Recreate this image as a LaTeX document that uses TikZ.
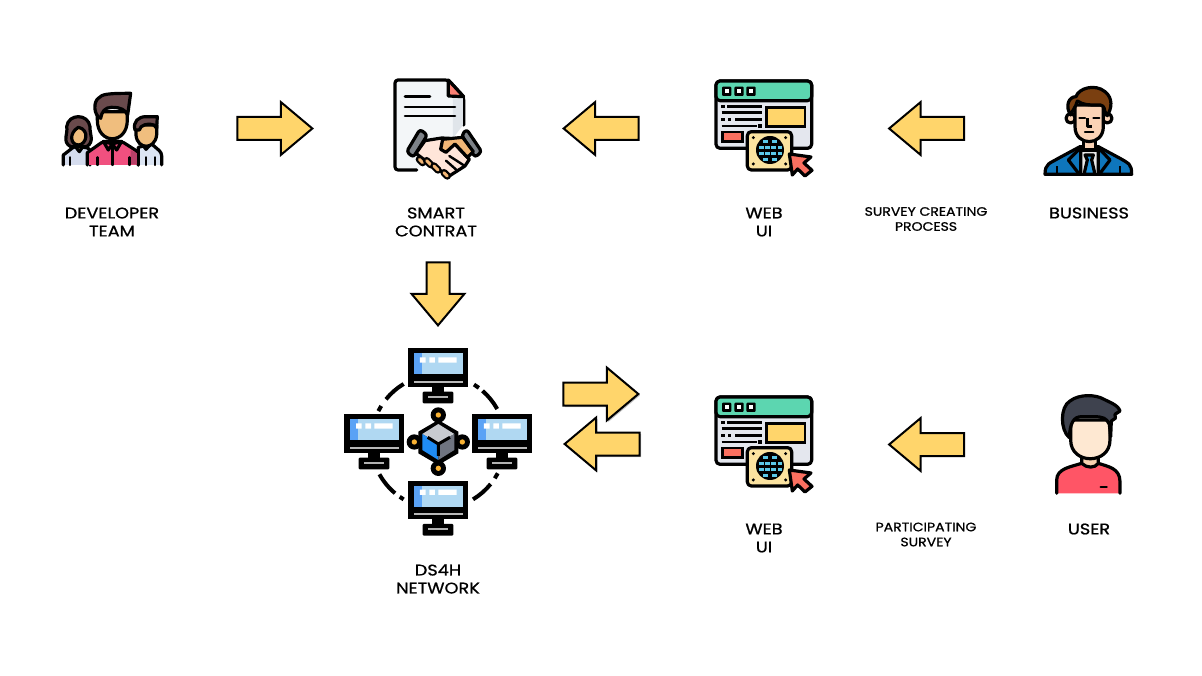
\documentclass[tikz,border=0pt]{standalone}
\usepackage{fontspec}
\setmainfont{Poppins}[FakeBold=0.9,FakeStretch=1.15]
\usetikzlibrary{shapes.arrows,shadows}
\definecolor{arrowyellow}{HTML}{FFD56B}
\definecolor{skin}{HTML}{F0BE7E}
\definecolor{mint}{HTML}{5CD6B0}
\definecolor{panel}{HTML}{E4E7EE}
\definecolor{coral}{HTML}{FA7060}
\definecolor{cardyellow}{HTML}{FBE3A0}
\definecolor{screenblue}{HTML}{B0D8F2}
\definecolor{screendeep}{HTML}{5AA2F5}
\definecolor{teamhair}{HTML}{6A4A4C}
\definecolor{teampink}{HTML}{F0507F}
\definecolor{teampinkdark}{HTML}{B84068}
\definecolor{lavender}{HTML}{D5DCEE}
\definecolor{paleblue}{HTML}{DCE5F3}
\definecolor{paper}{HTML}{F3F6F8}
\definecolor{papershade}{HTML}{E0E5EA}
\definecolor{cuff}{HTML}{7D8288}
\definecolor{handpale}{HTML}{FFE5D9}
\definecolor{handorange}{HTML}{F2B676}
\definecolor{globecell}{HTML}{5BC8E8}
\definecolor{jacket}{HTML}{0E76BC}
\definecolor{tieblue}{HTML}{1E90D8}
\definecolor{bizhair}{HTML}{7A3F10}
\definecolor{bizface}{HTML}{FBD3B6}
\definecolor{bizshirt}{HTML}{E8E8E8}
\definecolor{userhair}{HTML}{3E424E}
\definecolor{userred}{HTML}{FF5566}
\definecolor{userneck}{HTML}{F8D2B0}
\definecolor{userface}{HTML}{FEE8D2}
\definecolor{nodeyellow}{HTML}{F9B233}
\definecolor{cubeblue}{HTML}{1F8CF5}
\definecolor{cubegray}{HTML}{6F7480}
\definecolor{cubetop}{HTML}{C8CBD0}
\tikzset{
  zoomed/.style={x=.3333pt,y=-.3333pt},
  ic/.style={draw=black,line width=3.2pt,line join=round,line cap=round},
  rc/.style={rounded corners=3pt},
  blockarrow/.style={single arrow,draw=black,line width=2pt,fill=arrowyellow,
    minimum height=75pt,minimum width=51pt,single arrow head extend=15pt,
    single arrow tip angle=80,inner xsep=0pt,inner ysep=10.5pt,outer sep=0pt},
  downarrow/.style={blockarrow,shape border rotate=270,minimum height=63pt,
    inner xsep=10.5pt,inner ysep=0pt},
  soft/.style={drop shadow={shadow xshift=1.5pt,shadow yshift=-1.5pt,opacity=.25,fill=black}},
  lab/.style={font=\fontsize{15.4}{18}\selectfont,align=center,text=black,inner sep=0pt},
  smalllab/.style={font=\fontsize{12.2}{15}\selectfont,align=center,text=black,inner sep=0pt},
}
\newcommand{\webuiicon}{%
  \draw[ic,fill=panel,rounded corners=4pt] (48,33) rectangle (335,235);
  \draw[ic,fill=mint,rounded corners=4pt] (48,33) rectangle (335,92);
  \foreach \q in {80,117,153}{
    \fill[black,rounded corners=1pt] (\q-14,50) rectangle (\q+14,78);
    \fill[white] (\q-6,58) rectangle (\q+6,70);}
  \foreach \p/\q/\r in {82/185/110,65/185/128,105/185/148,65/170/168}{
    \draw[black,line width=2.5pt] (\p,\r) -- (\q,\r);}
  \foreach \p/\r in {69/110,69/148,88/148,180/168}{
    \fill[black] (\p-5,\r-5) rectangle (\p+5,\r+5);}
  \draw[black,line width=2.6pt,fill=arrowyellow] (200,112) rectangle (315,170);
  \draw[black,line width=2.6pt,fill=coral] (67,186) rectangle (127,214);
  \draw[ic,fill=cardyellow,rounded corners=4pt] (142,185) rectangle (275,300);
  \foreach \p/\r in {160/203,257/203,160/282,257/282}{\fill[black] (\p,\r) circle[radius=5];}
  \fill[black] (210,240) circle[radius=42];
  \foreach \p/\r in {196/214,224/214,184/233,203/233,221/233,240/233,184/250,203/250,221/250,240/250,196/268,224/268}{
    \fill[globecell] (\p-7,\r-5) rectangle (\p+7,\r+5);}
  \draw[ic,fill=coral] (268,252) -- (333,261) -- (312,279) -- (336,301) -- (315,318) -- (293,297) -- (277,315) -- cycle;
}
\newcommand{\monitoricon}{%
  \fill[black] (292,135) rectangle (328,160);
  \fill[black,rounded corners=1pt] (263,155) rectangle (355,190);
  \fill[gray!60] (278,168) rectangle (340,174);
  \fill[black] (220,25) rectangle (400,140);
  \fill[screenblue] (237,40) rectangle (383,103);
  \fill[screendeep] (237,40) rectangle (260,103);
  \fill[white] (255,52) rectangle (272,68) (283,52) rectangle (300,68) (310,52) rectangle (365,68);
  \fill[gray!55] (237,122) rectangle (383,128);
}
\begin{document}
\begin{tikzpicture}[x=1pt,y=-1pt]
\useasboundingbox (0,0) rectangle (1202,676);
\fill[white] (0,0) rectangle (1202,676);

% developer team
\begin{scope}[shift={(40,70)},zoomed]
  \draw[ic,fill=lavender] (70,285) -- (70,255) [rc] -- (105,228) -- (150,235) -- (150,285);
  \draw[ic,fill=paleblue] (295,285) -- (295,232) -- (335,222) [rc] -- (365,248) -- (365,285);
  \draw[line width=2.4pt,line cap=round] (90,285) -- (90,262) (345,285) -- (345,262) (318,285) -- (318,262);
  \draw[ic,fill=skin] (105,228) -- (130,228) -- (118,245) -- cycle;
  \draw[ic,fill=skin] (305,220) -- (335,220) -- (318,238) -- cycle;
  \draw[ic,fill=teamhair] (92,230) .. controls (65,215) and (85,190) .. (80,170) .. controls (85,130) and (145,130) .. (150,170) .. controls (148,190) and (165,215) .. (140,230) -- cycle;
  \draw[ic,fill=skin] (115,172) .. controls (150,178) and (140,225) .. (115,225) .. controls (92,225) and (85,190) .. (115,172) -- cycle;
  \draw[ic,fill=skin] (288,165) -- (288,195) .. controls (292,240) and (345,240) .. (350,195) -- (350,165) -- cycle;
  \draw[ic,fill=teamhair] (285,180) .. controls (278,155) and (295,140) .. (318,140) -- (352,140) -- (350,175) -- (342,165) .. controls (325,158) and (300,165) .. (298,180) -- cycle;
  \draw[ic,fill=teampink] (142,285) -- (142,248) [rc] -- (190,214) -- (245,214) -- (295,246) -- (295,285);
  \fill[teampinkdark] (272,240) -- (291,250) -- (291,283) -- (272,283) -- cycle;
  \draw[ic,fill=teampink] (190,214) -- (217,222) -- (205,240) -- cycle;
  \draw[ic,fill=teampink] (245,214) -- (217,222) -- (230,240) -- cycle;
  \draw[line width=2.4pt,line cap=round] (217,225) -- (217,285) (172,285) -- (172,262) (268,285) -- (268,262);
  \draw[ic,fill=skin] (172,125) -- (172,150) .. controls (172,225) and (262,225) .. (262,150) -- (262,125) -- cycle;
  \draw[ic,fill=teamhair] (182,145) .. controls (160,135) and (160,95) .. (175,85) .. controls (185,72) and (205,70) .. (272,70) -- (263,135) .. controls (255,120) and (245,112) .. (215,112) .. controls (195,112) and (185,125) .. (182,145) -- cycle;
\end{scope}

% smart contract
\begin{scope}[shift={(370,70)},zoomed]
  \draw[ic,fill=paper] (140,300) -- (90,300) [rc] -- (75,300) -- (75,30) -- (235,30) -- (281,80) -- (281,165);
  \fill[papershade] (249,84) -- (279,84) -- (279,165) -- (249,205) -- cycle;
  \draw[ic,fill=coral!80!pink] (235,30) -- (281,80) -- (235,78) -- cycle;
  \draw[black,line width=2.6pt,line cap=round] (105,80) -- (180,80) (105,111) -- (255,111) (105,138) -- (255,138);
  \draw[ic,fill=cuff,rc] (150,178) -- (172,195) -- (130,262) -- (110,245) -- cycle;
  \draw[ic,fill=cuff,rc] (290,178) -- (335,245) -- (315,262) -- (275,195) -- cycle;
  \draw[ic,fill=handpale] (165,212) -- (215,204) -- (238,205) -- (298,268) -- (285,288) -- (238,318) .. controls (215,305) and (175,280) .. (138,250) -- cycle;
  \draw[ic,fill=handorange] (218,208) -- (278,202) -- (310,245) -- (292,262) -- (255,222) -- (228,247) -- (212,238) -- cycle;
  \draw[black,line width=2.4pt,line cap=round] (238,258) -- (280,285) (228,272) -- (262,302);
  \foreach \p/\q/\r/\s in {148/268/158/278,170/272/182/284,192/288/204/300,222/308/232/318}{
    \draw[black,line width=7.4pt,line cap=round] (\p,\q) -- (\r,\s);
    \draw[handorange,line width=3pt,line cap=round] (\p,\q) -- (\r,\s);}
\end{scope}

% top web ui
\begin{scope}[shift={(700,70)},zoomed]\webuiicon\end{scope}

% business
\begin{scope}[shift={(1030,75)},zoomed]
  \draw[ic,fill=jacket] (45,298) .. controls (45,265) and (60,265) .. (85,250) -- (150,215) -- (205,215) -- (270,250) .. controls (295,265) and (305,265) .. (305,298) -- cycle;
  \draw[ic,fill=bizshirt] (152,225) -- (205,225) -- (205,298) -- (152,298) -- cycle;
  \draw[ic,fill=tieblue] (165,240) -- (190,240) -- (185,255) -- (195,298) -- (162,298) -- (172,255) -- cycle;
  \draw[ic,fill=jacket] (152,218) -- (115,255) -- (148,298) -- (152,298) -- cycle;
  \draw[ic,fill=jacket] (205,218) -- (240,255) -- (208,298) -- (205,298) -- cycle;
  \draw[black,line width=2pt] (80,298) -- (80,272) (270,298) -- (270,272);
  \draw[ic,fill=bizface] (160,190) rectangle (197,225);
  \draw[ic,fill=bizface] (122,130) circle[radius=14] (232,130) circle[radius=14];
  \draw[ic,fill=bizface] (135,90) -- (135,155) .. controls (135,215) and (220,215) .. (220,155) -- (220,90) -- cycle;
  \draw[ic,fill=bizhair] (122,120) .. controls (105,95) and (115,65) .. (138,65) .. controls (145,40) and (195,25) .. (225,50) .. controls (250,70) and (245,100) .. (232,122) -- (225,110) .. controls (222,95) and (220,88) .. (200,90) .. controls (175,90) and (160,90) .. (142,78) .. controls (138,95) and (128,105) .. (122,120) -- cycle;
  \draw[black,line width=2.2pt,line cap=round] (148,128) -- (165,128) (190,128) -- (208,128) (165,172) -- (190,172);
  \draw[black,line width=2.4pt,line join=round] (173,130) -- (173,155) -- (186,155);
\end{scope}

% network
\begin{scope}[shift={(335,340)},zoomed]
  \foreach \a/\b in {-29/-49,-53/-58,-121/-141,-148/-153,-209/-230,-235/-239,-301/-321,-327/-332}{
    \draw[black,line width=4pt] ([shift={(310,305)}]\a:202) arc[start angle=\a,end angle=\b,radius=202];}
  \monitoricon
  \begin{scope}[shift={(-192,198)}]\monitoricon\end{scope}
  \begin{scope}[shift={(192,198)}]\monitoricon\end{scope}
  \begin{scope}[shift={(0,397)}]\monitoricon\end{scope}
  \foreach \p/\q in {310/225,238/306,382/306,310/385}{
    \fill[black] (\p,\q) circle[radius=23];
    \fill[nodeyellow] (\p,\q) circle[radius=8];}
  \fill[black] (310,240) -- (370,275) -- (370,340) -- (310,375) -- (250,340) -- (250,275) -- cycle;
  \fill[cubetop] (310,252) -- (358,282) -- (310,310) -- (262,282) -- cycle;
  \fill[cubeblue] (262,282) -- (310,310) -- (310,360) -- (262,330) -- cycle;
  \fill[cubegray] (358,282) -- (310,310) -- (310,360) -- (358,330) -- cycle;
  \draw[black,line width=3pt,line join=miter] (278,292) -- (310,312) -- (345,292) (310,312) -- (310,348);
\end{scope}

% bottom web ui
\begin{scope}[shift={(700,386)},zoomed]\webuiicon\end{scope}

% user
\begin{scope}[shift={(1040,385)},zoomed]
  \draw[ic,fill=userred] (50,325) -- (50,285) .. controls (50,250) and (95,245) .. (125,235) -- (175,235) .. controls (205,245) and (240,250) .. (240,290) -- (240,325);
  \draw[ic,fill=userneck] (125,205) -- (125,235) .. controls (140,250) and (165,250) .. (175,235) -- (175,205) -- cycle;
  \draw[ic,fill=userface] (92,105) -- (92,165) .. controls (92,240) and (210,240) .. (210,165) -- (210,105) -- cycle;
  \draw[ic,fill=userhair] (88,158) .. controls (60,135) and (60,65) .. (90,48) .. controls (120,25) and (170,30) .. (190,42) .. controls (205,50) and (235,60) .. (240,78) -- (225,88) -- (226,100) -- (214,108) -- (212,155) -- (208,118) .. controls (200,100) and (190,95) .. (160,95) -- (125,95) .. controls (100,95) and (90,115) .. (88,158) -- cycle;
  \draw[black,line width=2.4pt,line cap=round] (182,306) -- (200,306);
\end{scope}

% block arrows
\node[blockarrow] (a1) at (268,128.5) {};
\node[blockarrow,shape border rotate=180] (a2) at (608,128.5) {};
\node[blockarrow,shape border rotate=180] (a3) at (933.5,128.5) {};
\node[downarrow] (a4) at (438,287) {};
\node[blockarrow,soft] (a5) at (594,394) {};
\node[blockarrow,soft,shape border rotate=180] (a6) at (609,444) {};
\node[blockarrow,shape border rotate=180] (a7) at (933.5,444.5) {};

% labels
\node[lab] (l1) at (112,222) {DEVELOPER\\TEAM};
\node[lab] (l2) at (436,222) {SMART\\CONTRAT};
\node[lab] (l3) at (764,222) {WEB\\UI};
\node[smalllab] (l4) at (926,219) {SURVEY CREATING\\PROCESS};
\node[lab] (l5) at (1089,213) {BUSINESS};
\node[lab] (l6) at (438,579) {DS4H\\NETWORK};
\node[lab] (l7) at (764,538) {WEB\\UI};
\node[smalllab] (l8) at (926,534.5) {PARTICIPATING\\SURVEY};
\node[lab] (l9) at (1089,529) {USER};
\end{tikzpicture}
\end{document}
